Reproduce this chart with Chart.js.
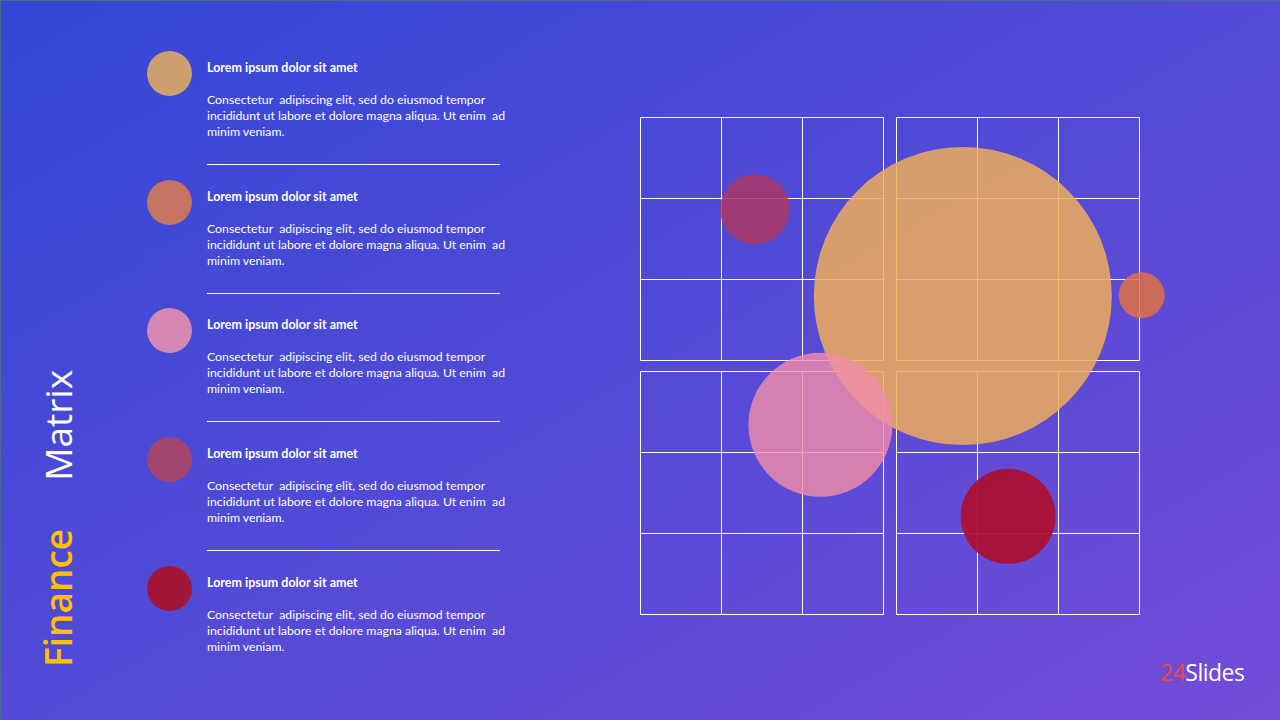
<!DOCTYPE html>
<html>
<head>
<meta charset="utf-8">
<script src="https://cdn.jsdelivr.net/npm/chart.js@4/dist/chart.umd.min.js"></script>
<style>
  html, body { margin: 0; padding: 0; }
  body {
    width: 1280px; height: 720px; overflow: hidden; position: relative;
    background: linear-gradient(150deg, #3347d6 0%, #4f4ad6 45%, #744cd8 100%);
    font-family: Lato, sans-serif;
  }
  #frame { position: absolute; left: 0; top: 0; width: 1278px; height: 718px; border: 1px solid #4a6a8c; border-right: none; border-bottom: none; z-index: 3; }
  #items { position: absolute; left: 0; top: 0; }
  .dot { position: absolute; width: 45px; height: 45px; border-radius: 50%; }
  .title { position: absolute; color: #fff; font-weight: bold; font-size: 12.5px; white-space: nowrap; }
  .body { position: absolute; color: #fff; font-size: 12.3px; line-height: 16px; white-space: pre; }
  .sep { position: absolute; height: 1px; width: 293px; background: #fff; }
  #vtitle {
    position: absolute; left: 39px; top: 667px; transform-origin: 0 0; transform: rotate(-90deg);
    font-family: "Open Sans", sans-serif; font-size: 37px; white-space: nowrap; line-height: 1;
  }
  #vtitle .a { color: #ffc000; font-weight: 600; }
  #vtitle .b { color: #fff; margin-left: 48px; }
  #logo { position: absolute; left: 1160px; top: 656px; font-family: "Open Sans", sans-serif; font-size: 23px; color: #fff; letter-spacing: -0.5px; }
  #logo span { color: #e8493c; }
  #wrap { position: absolute; left: 490px; top: -33px; width: 800px; height: 797px; }
</style>
</head>
<body>
<div id="frame"></div>
<div id="items"></div>
<div id="vtitle"><span class="a">Finance</span><span class="b">Matrix</span></div>
<div id="logo"><span>24</span>Slides</div>
<div id="wrap"><canvas id="myChart" width="800" height="797"></canvas></div>
<script>
// legend items (left list)
const itemTitles = [
  'Lorem ipsum dolor sit amet',
  'Lorem ipsum dolor sit amet',
  'Lorem ipsum dolor sit amet',
  'Lorem ipsum dolor sit amet',
  'Lorem ipsum dolor sit amet',
];
const itemLines = [
  'Consectetur  adipiscing elit, sed do eiusmod tempor',
  'incididunt ut labore et dolore magna aliqua. Ut enim  ad',
  'minim veniam.',
];
const itemColors = ['#cca06e', '#c47460', '#d488b3', '#a3466f', '#a31538'];

// bubbles, in grid cells (x from left, y from top), radius in px
// listed top-most first (chart.js paints dataset 0 last)
const bubbleItem = [4, 3, 1, 2, 0];
const bubbleX = [4.55, 1.42, 6.2, 2.23, 3.99];
const bubbleY = [4.93, 1.14, 2.2, 3.8, 2.21];
const bubbleR = [47.5, 35, 23, 72, 149];
const bubbleColors = [
  'rgba(172, 14, 44, 0.92)',
  'rgba(170, 55, 100, 0.86)',
  'rgba(222, 112, 70, 0.86)',
  'rgba(240, 140, 170, 0.82)',
  'rgba(238, 172, 92, 0.86)',
];

const items = document.querySelector('#items');
itemTitles.forEach((t, i) => {
  const top = 51 + i * 128.7;
  const dot = document.createElement('div');
  dot.className = 'dot';
  dot.style.left = '147px';
  dot.style.top = top + 'px';
  dot.style.background = itemColors[i];
  const title = document.createElement('div');
  title.className = 'title';
  title.style.left = '207px';
  title.style.top = (top + 9) + 'px';
  title.innerText = t;
  const body = document.createElement('div');
  body.className = 'body';
  body.style.left = '207px';
  body.style.top = (top + 41) + 'px';
  body.textContent = itemLines.join('\n');
  items.append(dot, title, body);
  if (i < itemTitles.length - 1) {
    const sep = document.createElement('div');
    sep.className = 'sep';
    sep.style.left = '207px';
    sep.style.top = (top + 113) + 'px';
    items.appendChild(sep);
  }
});

// 2x2 blocks of 3x3 cells
const gridPlugin = {
  id: 'grid',
  beforeDatasetsDraw(chart) {
    const ctx = chart.ctx;
    const xs = chart.scales.x;
    const ys = chart.scales.y;
    const xStarts = [0, 3.17];
    const yStarts = [0, 3.136];
    ctx.save();
    ctx.strokeStyle = '#ffffff';
    ctx.lineWidth = 1;
    xStarts.forEach((bx) => {
      yStarts.forEach((by) => {
        for (let k = 0; k <= 3; k++) {
          const px = Math.round(xs.getPixelForValue(bx + k)) + 0.5;
          const y0 = ys.getPixelForValue(by);
          const y1 = ys.getPixelForValue(by + 3);
          ctx.beginPath();
          ctx.moveTo(px, Math.round(y0) + 0.5);
          ctx.lineTo(px, Math.round(y1) + 0.5);
          ctx.stroke();
          const py = Math.round(ys.getPixelForValue(by + k)) + 0.5;
          ctx.beginPath();
          ctx.moveTo(Math.round(xs.getPixelForValue(bx)) + 0.5, py);
          ctx.lineTo(Math.round(xs.getPixelForValue(bx + 3)) + 0.5, py);
          ctx.stroke();
        }
      });
    });
    ctx.restore();
  },
};

const chartData = {
  datasets: bubbleX.map((x, i) => ({
    label: itemTitles[bubbleItem[i]],
    data: [{ x: x, y: bubbleY[i], r: bubbleR[i] }],
    backgroundColor: bubbleColors[i],
    borderWidth: 0,
    clip: false,
  })),
};

const config = {
  type: 'bubble',
  data: chartData,
  options: {
    responsive: false,
    animation: false,
    events: [],
    // padding must cover the largest bubble radius
    layout: { padding: 150 },
    plugins: { legend: { display: false }, tooltip: { enabled: false } },
    scales: {
      x: { type: 'linear', min: 0, max: 6.18, display: false },
      y: { type: 'linear', min: 0, max: 6.136, reverse: true, display: false },
    },
  },
  plugins: [gridPlugin],
};
const myChart = new Chart(document.querySelector('#myChart'), config);
</script>
</body>
</html>
